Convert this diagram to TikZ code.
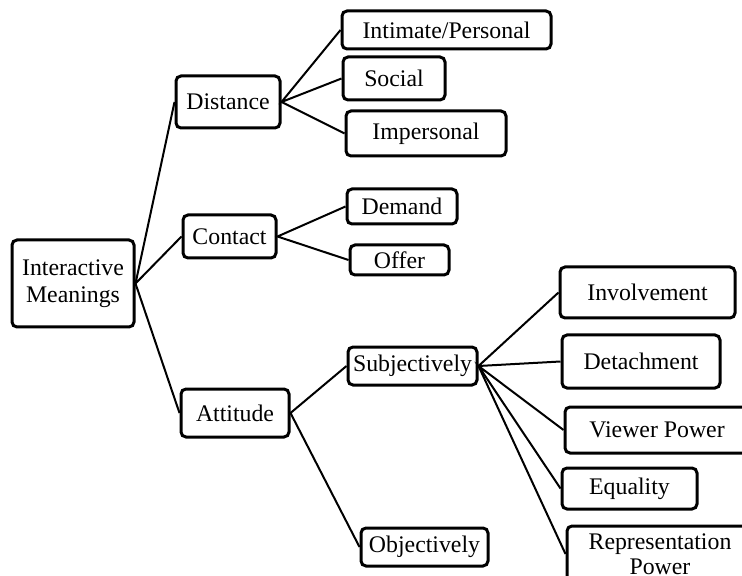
\documentclass[tikz,border=0pt]{standalone}
\usepackage{fontspec}
\setmainfont{Liberation Serif}
\usetikzlibrary{arrows.meta,positioning}

\begin{document}
\begin{tikzpicture}[x=0.5pt,y=-0.5pt,
    box/.style={draw,line width=1.5pt,rounded corners=2.5pt,inner sep=0pt,align=center,
      font=\fontsize{11.9}{13.7}\selectfont},
    sz/.style 2 args={minimum width=#1*0.5pt,minimum height=#2*0.5pt},
    link/.style={line width=1pt}]
  \useasboundingbox (0,0) rectangle (742,576);
  \clip (0,0) rectangle (742,576);
  \node[box,sz={122}{87}] (meaning) at (73,283.5) {Interactive\\Meanings};
  \node[box,sz={104}{52}] (dist) at (228,102) {Distance};
  \node[box,sz={93}{43}] (cont) at (229.5,236.5) {Contact};
  \node[box,sz={108}{48}] (att) at (235,413) {Attitude};
  % distance
  \node[box,sz={209}{38}] (intim) at (446.5,30) {Intimate/Personal};
  \node[box,sz={102}{43}] (soc) at (394,78.5) {Social};
  \node[box,sz={160}{45}] (imp) at (426,133.5) {Impersonal};
  % contact
  \node[box,sz={110}{35}] (dem) at (402,206.5) {Demand};
  \node[box,sz={99}{30}] (off) at (399.5,260) {Offer};
  % attitude
  \node[box,sz={129}{38}] (subj) at (412.5,366) {Subjectively};
  \node[box,sz={127}{38}] (obj) at (424.5,547) {Objectively};
  \node[box,sz={175}{51}] (inv) at (647.5,292.5) {Involvement};
  \node[box,sz={158}{53}] (det) at (641,361.5) {Detachment};
  \node[box,sz={184}{46}] (view) at (657,430) {Viewer Power};
  \node[box,sz={135}{41}] (equ) at (629.5,488.5) {Equality};
  \node[box,sz={186}{56},font=\fontsize{11.9}{12.5}\selectfont] (rep) at (660,554) {Representation\\Power};
  \draw[link] (dist.west) -- (meaning.east) -- (cont.west);
  \draw[link] (meaning.east) -- (att.west);
  \draw[link] (intim.west) -- (dist.east) -- (soc.west);
  \draw[link] (dist.east) -- (imp.west);
  \draw[link] (dem.west) -- (cont.east) -- (off.west);
  \draw[link] (subj.west) -- (att.east) -- (obj.west);
  \draw[link] (inv.west) -- (subj.east) -- (det.west);
  \draw[link] (view.west) -- (subj.east) -- (equ.west);
  \draw[link] (subj.east) -- (rep.west);
\end{tikzpicture}
\end{document}
